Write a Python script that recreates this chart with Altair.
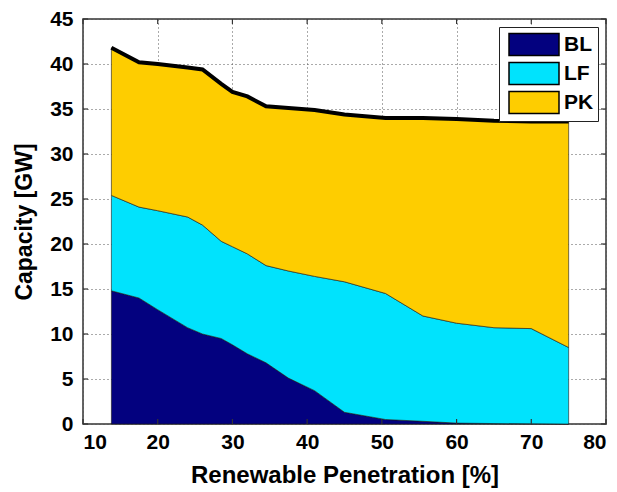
import altair as alt
import pandas as pd

# Renewable penetration levels [%]
penetration = [13.8, 17.5, 20.0, 24.0, 26.0, 28.5, 30.0, 32.0, 34.5, 37.5,
               41.0, 45.0, 50.5, 55.5, 60.0, 65.0, 70.0, 75.0]

# Installed capacity by plant type [GW]
baseload = [14.8, 14.0, 12.7, 10.7, 10.0, 9.5, 8.8, 7.8, 6.8, 5.1,
            3.7, 1.3, 0.5, 0.3, 0.1, 0.05, 0.03, 0.0]
load_following = [10.6, 10.1, 11.0, 12.3, 12.1, 10.8, 10.9, 11.1, 10.8, 11.9,
                  12.7, 14.5, 14.0, 11.7, 11.1, 10.65, 10.57, 8.5]
peaking = [16.4, 16.1, 16.3, 16.6, 17.3, 17.5, 17.2, 17.5, 17.7, 18.1,
           18.5, 18.6, 19.5, 22.0, 22.7, 23.0, 23.0, 25.1]

types = ["BL", "LF", "PK"]
colors = ["#03017f", "#00e3fd", "#fecd00"]

x_ticks = [10, 20, 30, 40, 50, 60, 70, 80]
y_ticks = [0, 5, 10, 15, 20, 25, 30, 35, 40, 45]

FONT = "Liberation Sans"
W, H = 523, 405

wide = pd.DataFrame({"x": penetration, "BL": baseload, "LF": load_following, "PK": peaking})
long = wide.melt(id_vars="x", var_name="type", value_name="cap")
long["rank"] = long["type"].map({t: i for i, t in enumerate(types)})

x_scale = alt.Scale(domain=[10, 80], nice=False, zero=False)
y_scale = alt.Scale(domain=[0, 45], nice=False)

x_axis = alt.Axis(values=x_ticks, title="Renewable Penetration [%]", grid=True,
                  gridDash=[1, 3], gridColor="#555", gridWidth=1, domain=False,
                  ticks=False, labelPadding=7, labelFontSize=21, labelFont=FONT,
                  labelFontWeight="bold", labelColor="black", titleFont=FONT,
                  titleFontSize=24, titleFontWeight="bold", titleColor="black",
                  titlePadding=11)
y_axis = alt.Axis(values=y_ticks, title="Capacity [GW]", grid=True,
                  gridDash=[1, 3], gridColor="#555", gridWidth=1, domain=False,
                  ticks=False, labelPadding=10, labelFontSize=21, labelFont=FONT,
                  labelFontWeight="bold", labelColor="black", titleFont=FONT,
                  titleFontSize=23, titleFontWeight="bold", titleColor="black",
                  titlePadding=13)

# Legend swatch: wide rectangle shifted right of the symbol centre
swatch = "M-0.6,-0.88H3.4V0.88H-0.6Z"

areas = alt.Chart(long).mark_area(stroke="#1a1a1a", strokeWidth=0.6).encode(
    x=alt.X("x:Q", scale=x_scale, axis=x_axis),
    y=alt.Y("cap:Q", stack="zero", scale=y_scale, axis=y_axis),
    color=alt.Color(
        "type:N",
        scale=alt.Scale(domain=types, range=colors),
        legend=alt.Legend(
            title=None, orient="none", legendX=416, legendY=8,
            symbolType=swatch, symbolSize=625,
            symbolStrokeColor="black", symbolStrokeWidth=1.5, symbolOpacity=1,
            labelFont=FONT, labelFontSize=21, labelFontWeight="bold",
            labelColor="black", labelOffset=34, rowPadding=0,
            padding=4, fillColor="white", strokeColor="#222",
        ),
    ),
    order=alt.Order("rank:Q"),
)

# Total installed capacity drawn as a heavy outline over the stack
total = alt.Chart(wide).transform_calculate(
    total="datum.BL + datum.LF + datum.PK"
).mark_line(color="black", strokeWidth=4).encode(
    x=alt.X("x:Q", scale=x_scale),
    y=alt.Y("total:Q", scale=y_scale),
)

# Inward tick marks on all four sides of the frame
xt = pd.DataFrame({"v": x_ticks})
yt = pd.DataFrame({"v": y_ticks})
tick_style = dict(color="#333", strokeWidth=1.2)
top_ticks = alt.Chart(xt).mark_rule(**tick_style).encode(
    x=alt.X("v:Q", scale=x_scale), y=alt.value(0), y2=alt.value(5))
bottom_ticks = alt.Chart(xt).mark_rule(**tick_style).encode(
    x=alt.X("v:Q", scale=x_scale), y=alt.value(H), y2=alt.value(H - 5))
right_ticks = alt.Chart(yt).mark_rule(**tick_style).encode(
    y=alt.Y("v:Q", scale=y_scale), x=alt.value(W), x2=alt.value(W - 5))
left_ticks = alt.Chart(yt).mark_rule(**tick_style).encode(
    y=alt.Y("v:Q", scale=y_scale), x=alt.value(0), x2=alt.value(5))

chart = alt.layer(
    areas, total, top_ticks, bottom_ticks, right_ticks, left_ticks
).properties(
    width=W, height=H,
    autosize=alt.AutoSizeParams(type="none"),
    padding={"left": 83, "top": 19, "right": 11, "bottom": 68},
    background="white",
).configure_view(
    stroke="#333", strokeWidth=1.5
)

chart.save("out.html", embed_options={"renderer": "svg", "actions": False})
